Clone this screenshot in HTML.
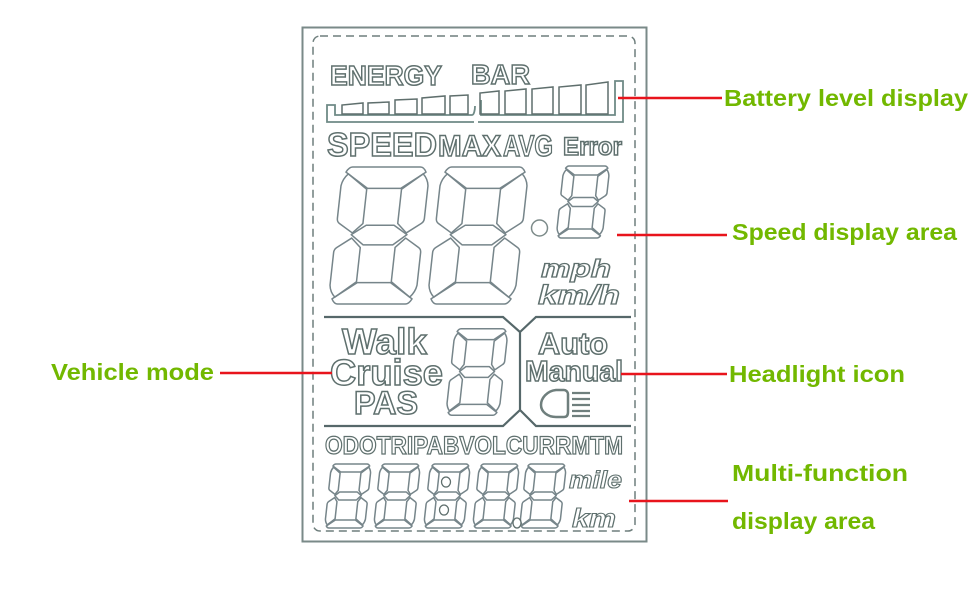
<!DOCTYPE html>
<html><head><meta charset="utf-8"><style>
html,body{margin:0;padding:0;background:#fff;width:970px;height:600px;overflow:hidden}
svg{display:block}
text{font-family:"Liberation Sans",sans-serif}
.o{fill:#fff;stroke:#5f706e;stroke-width:1.5;font-weight:bold}
.l{fill:#72b800;font-weight:bold;font-size:23px}
.r{stroke:#e8141c;stroke-width:2.4;fill:none}
.s{fill:none;stroke:#76858a;stroke-linejoin:round;vector-effect:non-scaling-stroke}
</style></head><body>
<svg width="970" height="600" viewBox="0 0 970 600" xmlns="http://www.w3.org/2000/svg">
<defs>
<g id="d">
<path class="s" d="M-39-80H39Q43-80 46-74L19-55H-19L-46-74Q-43-80-39-80Z"/>
<path class="s" d="M-43-72-20-54V-14L-31-3-47-14Q-50-16-50-20V-58Q-49-66-43-72Z"/>
<path class="s" d="M43-72 20-54V-14L31-3 47-14Q50-16 50-20V-58Q49-66 43-72Z"/>
<path class="s" d="M-16-12H16L32-1 17 11H-17L-32-1Z"/>
<path class="s" d="M-43 72-20 54V14L-31 3-47 14Q-50 16-50 20V58Q-49 66-43 72Z"/>
<path class="s" d="M43 72 20 54V14L31 3 47 14Q50 16 50 20V58Q49 66 43 72Z"/>
<path class="s" d="M-39 80H39Q43 80 46 74L19 55H-19L-46 74Q-43 80-39 80Z"/>
</g>
<g id="e">
<path class="s" d="M-39-80H39Q43-80 46-75L25-60H-25L-46-75Q-43-80-39-80Z"/>
<path class="s" d="M-44-72-26-57V-14L-33-4-47-14Q-50-16-50-20V-58Q-49-66-44-72Z"/>
<path class="s" d="M44-72 26-57V-14L33-4 47-14Q50-16 50-20V-58Q49-66 44-72Z"/>
<path class="s" d="M-22-10H22L33-1 22 10H-22L-33-1Z"/>
<path class="s" d="M-44 72-26 57V14L-33 4-47 14Q-50 16-50 20V58Q-49 66-44 72Z"/>
<path class="s" d="M44 72 26 57V14L33 4 47 14Q50 16 50 20V58Q49 66 44 72Z"/>
<path class="s" d="M-39 80H39Q43 80 46 75L25 60H-25L-46 75Q-43 80-39 80Z"/>
</g>
</defs>
<rect width="970" height="600" fill="#fff"/>
<rect x="302.500" y="27.500" width="344" height="514" fill="none" stroke="#7a8a88" stroke-width="2"/>
<rect x="313" y="36" width="322" height="495" rx="7" fill="none" stroke="#6f7f7d" stroke-width="1.5" stroke-dasharray="8 5"/>

<text class="o" x="330" y="85" font-size="28" textLength="112" lengthAdjust="spacingAndGlyphs">ENERGY</text>
<text class="o" x="471" y="84" font-size="28" textLength="59" lengthAdjust="spacingAndGlyphs">BAR</text>

<path d="M474 122H327V105H335V115H472C474 115 475 110 475 106M478 122H623V81H615V115H481V100" fill="none" stroke="#6f8a86" stroke-width="1.800"/>
<g fill="none" stroke="#5f6f6d" stroke-width="1.500">
<path d="M342 114V105L363 103V114Z"/>
<path d="M368 114V103L389 102V114Z"/>
<path d="M395 114V100L417 99V114Z"/>
<path d="M422 114V98L445 96V114Z"/>
<path d="M450 114V96L468 95V114Z"/>
<path d="M480 114V93L499 91V114Z"/>
<path d="M505 114V91L526 89V114Z"/>
<path d="M532 114V89L553 87V114Z"/>
<path d="M559 114V87L581 85V114Z"/>
<path d="M586 114V85L608 82V114Z"/>
</g>

<text class="o" x="327" y="156" font-size="33" textLength="110" lengthAdjust="spacingAndGlyphs">SPEED</text>
<text class="o" x="438" y="156" font-size="30" textLength="63" lengthAdjust="spacingAndGlyphs">MAX</text>
<text class="o" x="503" y="156" font-size="30" textLength="50" lengthAdjust="spacingAndGlyphs">AVG</text>
<text class="o" x="563" y="155" font-size="25" textLength="59" lengthAdjust="spacingAndGlyphs">Error</text>

<g stroke-width="1.5">
<use href="#d" transform="translate(379 235.500) skewX(-6.300) scale(.87 .856)"/>
<use href="#d" transform="translate(478 235.500) skewX(-6.300) scale(.87 .856)"/>
<use href="#e" transform="translate(583 202) skewX(-6.300) scale(.46 .45)"/>
<use href="#e" transform="translate(477 372) skewX(-6.300) scale(.53 .54)"/>
<use href="#e" transform="translate(348 496) skewX(-6.300) scale(.4 .4)"/>
<use href="#e" transform="translate(397 496) skewX(-6.300) scale(.4 .4)"/>
<use href="#e" transform="translate(447 496) skewX(-6.300) scale(.4 .4)"/>
<use href="#e" transform="translate(496 496) skewX(-6.300) scale(.4 .4)"/>
<use href="#e" transform="translate(543 496) skewX(-6.300) scale(.4 .4)"/>
</g>
<circle cx="539.500" cy="228" r="8" fill="#fff" stroke="#7d8b8a" stroke-width="1.5"/>
<ellipse cx="446" cy="482" rx="4.500" ry="5" fill="#fff" stroke="#5f6f6d" stroke-width="1.3"/>
<ellipse cx="444" cy="510" rx="4.500" ry="5" fill="#fff" stroke="#5f6f6d" stroke-width="1.3"/>
<ellipse cx="517" cy="523" rx="4" ry="5" fill="#fff" stroke="#5f6f6d" stroke-width="1.3"/>

<text class="o" x="541" y="277" font-size="25" font-style="italic" textLength="70" lengthAdjust="spacingAndGlyphs" style="stroke-width:1.2">mph</text>
<text class="o" x="538" y="304" font-size="27" font-style="italic" textLength="82" lengthAdjust="spacingAndGlyphs" style="stroke-width:1.2">km/h</text>

<path d="M324 317H503L520 332V410L503 426H324M631 317H536L520 332M520 410 536 426H631" fill="none" stroke="#56686a" stroke-width="2.200"/>

<text class="o" x="342" y="354" font-size="36" textLength="85" lengthAdjust="spacingAndGlyphs">Walk</text>
<text class="o" x="330" y="385" font-size="36" textLength="113" lengthAdjust="spacingAndGlyphs">Cruise</text>
<text class="o" x="354" y="414" font-size="32" textLength="64" lengthAdjust="spacingAndGlyphs">PAS</text>
<text class="o" x="538" y="354" font-size="31" textLength="70" lengthAdjust="spacingAndGlyphs">Auto</text>
<text class="o" x="525" y="381" font-size="29" textLength="98" lengthAdjust="spacingAndGlyphs">Manual</text>

<path d="M564 390H556C547 391 541 398 541 405C541 412 548 417 556 417H564C567 417 568 415 568 412V394C568 392 566 390 564 390Z" fill="none" stroke="#6f7f7d" stroke-width="2.500"/>
<path d="M572 393H590M572 399H590M572 405H590M572 411H590M572 416H590" stroke="#6f7f7d" stroke-width="2.200"/>

<text class="o" x="325" y="454" font-size="25" textLength="298" lengthAdjust="spacingAndGlyphs" style="stroke-width:1.3">ODOTRIPABVOLCURRMTM</text>

<text class="o" x="569" y="488" font-size="24" font-style="italic" textLength="53" lengthAdjust="spacingAndGlyphs" style="stroke-width:1.100">mile</text>
<text class="o" x="572" y="527" font-size="26" font-style="italic" textLength="44" lengthAdjust="spacingAndGlyphs" style="stroke-width:1.100">km</text>

<path class="r" d="M618 98H722M617 235H727M220 373H332M621 374H727M629 501H728"/>

<text class="l" x="724" y="106" textLength="244" lengthAdjust="spacingAndGlyphs">Battery level display</text>
<text class="l" x="732" y="240" textLength="225" lengthAdjust="spacingAndGlyphs">Speed display area</text>
<text class="l" x="51" y="380" textLength="163" lengthAdjust="spacingAndGlyphs">Vehicle mode</text>
<text class="l" x="729" y="382" textLength="176" lengthAdjust="spacingAndGlyphs">Headlight icon</text>
<text class="l" x="732" y="481" textLength="176" lengthAdjust="spacingAndGlyphs">Multi-function</text>
<text class="l" x="732" y="529" textLength="143" lengthAdjust="spacingAndGlyphs">display area</text>
</svg>
</body></html>
